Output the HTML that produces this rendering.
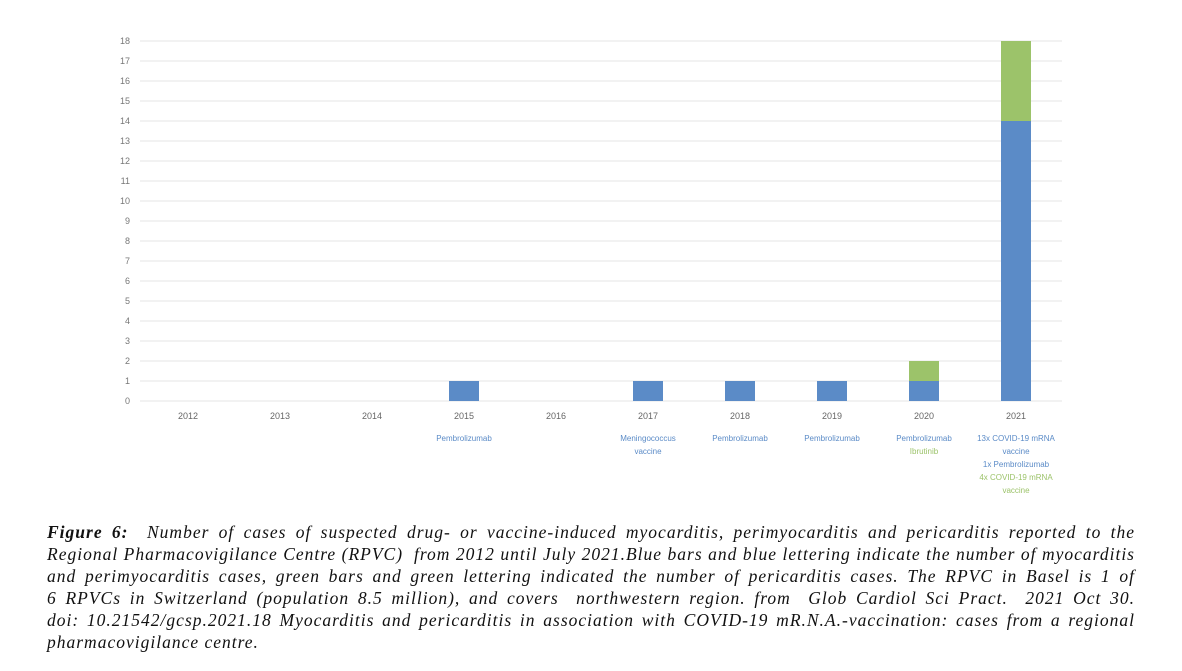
<!DOCTYPE html>
<html><head><meta charset="utf-8"><style>
body{margin:0;background:#fff;width:1182px;height:671px;overflow:hidden;position:relative;font-family:"Liberation Sans",sans-serif}
.cap{position:absolute;left:47px;top:521px;width:1088px;font-family:"Liberation Serif",serif;font-style:italic;font-size:17.5px;line-height:22px;color:#111;letter-spacing:1px}
.cap div{text-align:justify;text-align-last:justify;white-space:nowrap;overflow:visible}
.cap div.l{text-align-last:left}
</style></head><body>
<svg width="1182" height="520" style="position:absolute;left:0;top:0" font-family="Liberation Sans, sans-serif">
<g stroke="#eeeeee" stroke-width="1.5">
<line x1="140" x2="1062" y1="41" y2="41"/><line x1="140" x2="1062" y1="61" y2="61"/><line x1="140" x2="1062" y1="81" y2="81"/><line x1="140" x2="1062" y1="101" y2="101"/><line x1="140" x2="1062" y1="121" y2="121"/><line x1="140" x2="1062" y1="141" y2="141"/><line x1="140" x2="1062" y1="161" y2="161"/><line x1="140" x2="1062" y1="181" y2="181"/><line x1="140" x2="1062" y1="201" y2="201"/><line x1="140" x2="1062" y1="221" y2="221"/><line x1="140" x2="1062" y1="241" y2="241"/><line x1="140" x2="1062" y1="261" y2="261"/><line x1="140" x2="1062" y1="281" y2="281"/><line x1="140" x2="1062" y1="301" y2="301"/><line x1="140" x2="1062" y1="321" y2="321"/><line x1="140" x2="1062" y1="341" y2="341"/><line x1="140" x2="1062" y1="361" y2="361"/><line x1="140" x2="1062" y1="381" y2="381"/><line x1="140" x2="1062" y1="401" y2="401"/>
</g>
<g font-size="9" fill="#777" text-anchor="end">
<text x="130" y="44">18</text><text x="130" y="64">17</text><text x="130" y="84">16</text><text x="130" y="104">15</text><text x="130" y="124">14</text><text x="130" y="144">13</text><text x="130" y="164">12</text><text x="130" y="184">11</text><text x="130" y="204">10</text><text x="130" y="224">9</text><text x="130" y="244">8</text><text x="130" y="264">7</text><text x="130" y="284">6</text><text x="130" y="304">5</text><text x="130" y="324">4</text><text x="130" y="344">3</text><text x="130" y="364">2</text><text x="130" y="384">1</text><text x="130" y="404">0</text>
</g>
<g fill="#5b8bc7">
<rect x="449" y="381" width="30" height="20"/><rect x="633" y="381" width="30" height="20"/><rect x="725" y="381" width="30" height="20"/><rect x="817" y="381" width="30" height="20"/><rect x="909" y="381" width="30" height="20"/><rect x="1001" y="121" width="30" height="280"/>
</g>
<g fill="#9cc36a"><rect x="909" y="361" width="30" height="20"/><rect x="1001" y="41" width="30" height="80"/></g>
<g font-size="9" fill="#666" text-anchor="middle">
<text x="188" y="419">2012</text><text x="280" y="419">2013</text><text x="372" y="419">2014</text><text x="464" y="419">2015</text><text x="556" y="419">2016</text><text x="648" y="419">2017</text><text x="740" y="419">2018</text><text x="832" y="419">2019</text><text x="924" y="419">2020</text><text x="1016" y="419">2021</text>
</g>
<g font-size="8" fill="#5b8bc7" text-anchor="middle">
<text x="464" y="441">Pembrolizumab</text><text x="648" y="441">Meningococcus</text><text x="648" y="454">vaccine</text><text x="740" y="441">Pembrolizumab</text><text x="832" y="441">Pembrolizumab</text><text x="924" y="441">Pembrolizumab</text>
<text x="1016" y="441">13x COVID-19 mRNA</text><text x="1016" y="454">vaccine</text><text x="1016" y="467">1x Pembrolizumab</text>
</g>
<g font-size="8" fill="#9cc36a" text-anchor="middle">
<text x="924" y="454">Ibrutinib</text><text x="1016" y="480">4x COVID-19 mRNA</text><text x="1016" y="493">vaccine</text>
</g>
</svg>
<div class="cap">
<div><b>Figure 6:</b>&nbsp; Number of cases of suspected drug- or vaccine-induced myocarditis, perimyocarditis and pericarditis reported to the</div>
<div>Regional Pharmacovigilance Centre (RPVC)&nbsp; from 2012 until July 2021.Blue bars and blue lettering indicate the number of myocarditis</div>
<div>and perimyocarditis cases, green bars and green lettering indicated the number of pericarditis cases. The RPVC in Basel is 1 of</div>
<div>6 RPVCs in Switzerland (population 8.5 million), and covers&nbsp; northwestern region. from&nbsp; Glob Cardiol Sci Pract.&nbsp; 2021 Oct 30.</div>
<div>doi: 10.21542/gcsp.2021.18 Myocarditis and pericarditis in association with COVID-19 mR.N.A.-vaccination: cases from a regional</div>
<div class="l">pharmacovigilance centre.</div>
</div>
</body></html>
